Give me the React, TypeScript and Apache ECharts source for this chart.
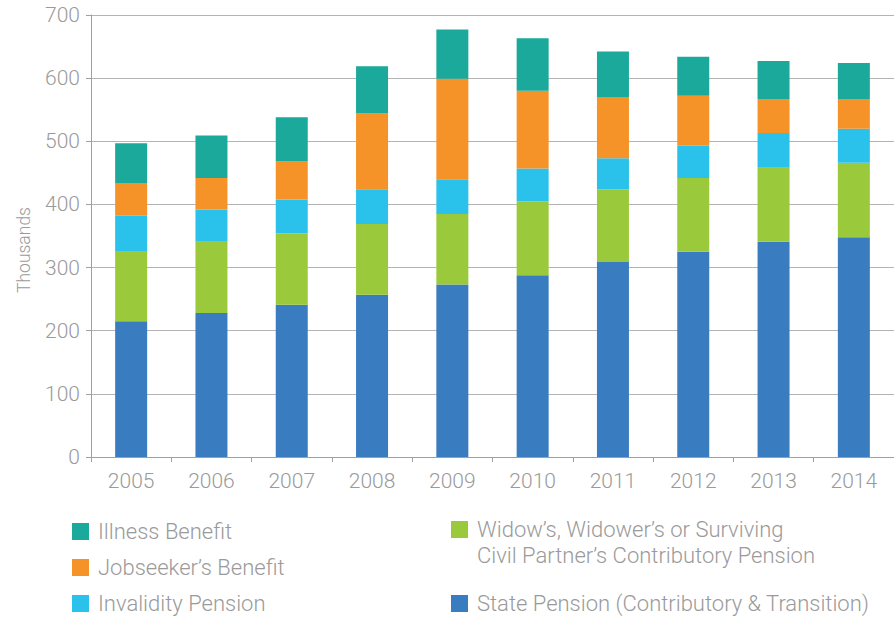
import React, { useEffect, useRef } from "react";
import * as echarts from "echarts";

const years = ["2005", "2006", "2007", "2008", "2009", "2010", "2011", "2012", "2013", "2014"];
const statePension = [215, 228, 241, 257, 273, 288, 309, 325, 341, 348];
const widows = [110, 113, 113, 112, 112, 117, 115, 117, 117, 118];
const invalidity = [57, 51, 54, 55, 55, 52, 49, 51, 55, 54];
const jobseekers = [52, 50, 60, 120, 159, 123, 97, 79, 54, 47];
const illness = [63, 67, 70, 75, 78, 83, 72, 62, 60, 57];

const yTicks = [0, 100, 200, 300, 400, 500, 600, 700];

const NAME_STATE = "State Pension (Contributory & Transition)";
const NAME_WIDOW = "Widow\u2019s, Widower\u2019s or Surviving\nCivil Partner\u2019s Contributory Pension";
const NAME_INVALID = "Invalidity Pension";
const NAME_JOB = "Jobseeker\u2019s Benefit";
const NAME_ILL = "Illness Benefit";

const FONT = "Roboto, 'Open Sans', 'Liberation Sans', sans-serif";
const GREY = "#9a9a9a";

export default function App() {
  const ref = useRef<HTMLDivElement>(null);

  useEffect(() => {
    if (!ref.current) return;
    const chart = echarts.init(ref.current, undefined, { renderer: "svg" });
    const iconSmall = "path://M0,0L17,0L17,17L0,17Z M21,17L20.99,17";
    const iconTall = "path://M0,0L17,0L17,17L0,17Z M21,43L20.99,43";
    const legendText = {
      fontSize: 22,
      color: GREY,
      fontFamily: FONT,
      fontWeight: 300 as any,
      lineHeight: 22,
    };
    const mk = (name: string, data: number[], color: string) => ({
      name,
      type: "bar",
      stack: "total",
      data,
      barWidth: 32,
      itemStyle: { color },
    });
    chart.setOption({
      animation: false,
      grid: { left: 91, right: 0, top: 15, bottom: 162, containLabel: false },
      xAxis: {
        type: "category",
        data: years,
        axisLine: { lineStyle: { color: "#a0a0a0", width: 1 } },
        axisTick: { show: true, length: 5, lineStyle: { color: "#a0a0a0" } },
        axisLabel: { fontSize: 21, color: GREY, fontFamily: FONT, fontWeight: 300, margin: 13 },
      },
      yAxis: {
        type: "value",
        min: 0,
        max: 700,
        interval: 100,
        name: "Thousands",
        nameLocation: "middle",
        nameGap: 58,
        nameTextStyle: {
          fontSize: 17.5,
          color: GREY,
          fontFamily: FONT,
          fontWeight: 300,
          padding: [0, 28, 0, 0],
        },
        axisLine: { show: true, lineStyle: { color: "#a0a0a0", width: 1 } },
        axisTick: { show: true, length: 5, lineStyle: { color: "#a0a0a0" } },
        axisLabel: {
          fontSize: 21,
          color: GREY,
          fontFamily: FONT,
          fontWeight: 300,
          margin: 11,
          formatter: (v: number) => (yTicks.includes(v) ? String(v) : ""),
        },
        splitLine: { show: true, lineStyle: { color: "#b4b4b4", width: 1 } },
      },
      legend: [
        {
          orient: "vertical",
          left: 72,
          top: 520.5,
          padding: 0,
          itemGap: 14,
          itemWidth: 21,
          itemHeight: 17,
          icon: iconSmall,
          data: [NAME_ILL, NAME_JOB, NAME_INVALID],
          textStyle: legendText,
          selectedMode: false,
        },
        {
          orient: "vertical",
          left: 451,
          top: 521 - 4.5,
          padding: 0,
          itemWidth: 21,
          itemHeight: 43,
          icon: iconTall,
          data: [NAME_WIDOW],
          textStyle: { ...legendText, lineHeight: 26 },
          selectedMode: false,
        },
        {
          orient: "vertical",
          left: 451,
          top: 592.5,
          padding: 0,
          itemWidth: 21,
          itemHeight: 17,
          icon: iconSmall,
          data: [NAME_STATE],
          textStyle: legendText,
          selectedMode: false,
        },
      ],
      series: [
        mk(NAME_STATE, statePension, "#397CC0"),
        mk(NAME_WIDOW, widows, "#9BC93C"),
        mk(NAME_INVALID, invalidity, "#2AC1EA"),
        mk(NAME_JOB, jobseekers, "#F59328"),
        mk(NAME_ILL, illness, "#1AA99B"),
      ],
    });
    return () => chart.dispose();
  }, []);

  return (
    <div
      ref={ref}
      style={{ position: "fixed", left: 0, top: 0, width: 894, height: 619, background: "#fff" }}
    />
  );
}
